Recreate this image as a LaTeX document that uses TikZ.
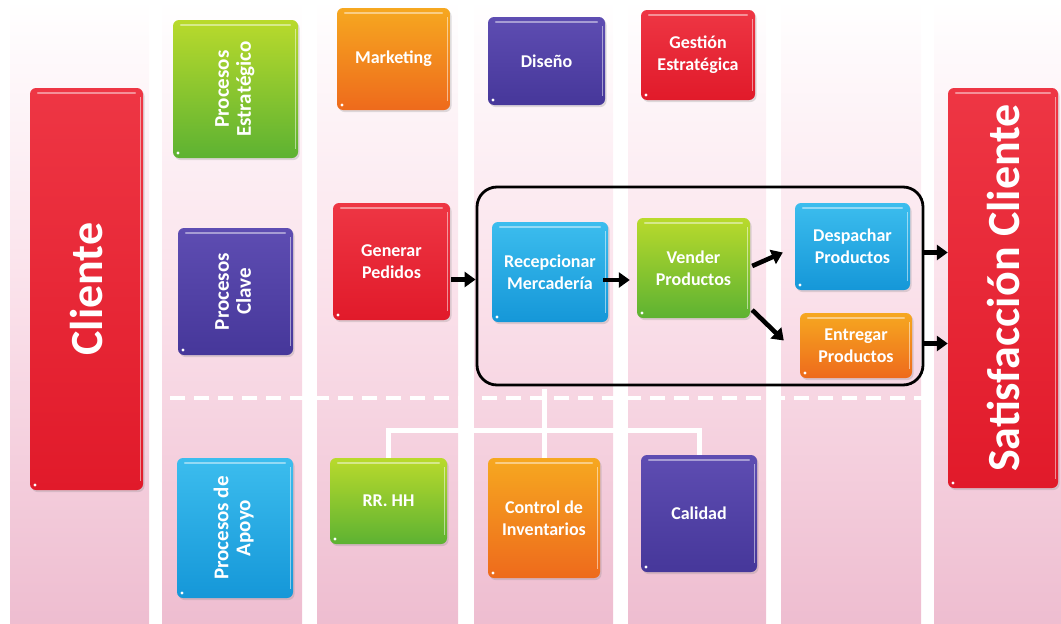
\documentclass[tikz,border=0pt]{standalone}
\usepackage{fontspec}
\setmainfont{Carlito}
\usetikzlibrary{arrows.meta,shadows,calc}

% palette
\definecolor{redT}{HTML}{EE3644}
\definecolor{redB}{HTML}{E11A2A}
\definecolor{grnT}{HTML}{B9DA2C}
\definecolor{grnB}{HTML}{5DB232}
\definecolor{orgT}{HTML}{F6A820}
\definecolor{orgB}{HTML}{EE6A1C}
\definecolor{purT}{HTML}{5E4DB2}
\definecolor{purB}{HTML}{46379A}
\definecolor{bluT}{HTML}{3CBDEE}
\definecolor{bluB}{HTML}{1597D8}
\definecolor{pinkM}{HTML}{FADFE9}
\definecolor{pinkB}{HTML}{EEBDD0}

\begin{document}
\begin{tikzpicture}[x=1pt,y=-1pt,
  box/.style={rounded corners=6pt, text=white, align=center, inner sep=2pt,
    font=\bfseries\fontsize{18}{22}\selectfont,
    drop shadow={shadow xshift=1.5pt, shadow yshift=-2pt, opacity=.25},
    path picture={
      \draw[white, opacity=.45, line width=2.2pt, line cap=round]
        ([xshift=8pt,yshift=-5pt]path picture bounding box.north west) --
        ([xshift=-8pt,yshift=-5pt]path picture bounding box.north east);
      \draw[white, opacity=.5, line width=1.2pt]
        ([xshift=-2.5pt,yshift=-9pt]path picture bounding box.north east) --
        ([xshift=-2.5pt,yshift=9pt]path picture bounding box.south east);
      \fill[white] ([xshift=5pt,yshift=5pt]path picture bounding box.south west)
        circle[radius=1.7pt];
    }},
  redbox/.style={box, top color=redT, bottom color=redB},
  grnbox/.style={box, top color=grnT, bottom color=grnB},
  orgbox/.style={box, top color=orgT, bottom color=orgB},
  purbox/.style={box, top color=purT, bottom color=purB},
  blubox/.style={box, top color=bluT, bottom color=bluB},
  sz/.style 2 args={minimum width=#1pt, minimum height=#2pt},
  arr/.style={line width=4.6pt, -{Triangle[length=11pt,width=15pt]}},
  conn/.style={white, line width=5pt},
  band/.style={top color=white, bottom color=pinkB, middle color=pinkM}
]
\useasboundingbox (0,0) rectangle (1061,624);

% background column bands
\foreach \a/\b in {10/149, 162/302, 317/458, 474/613, 628/766, 781/921, 934/1061}
  \shade[band] (\a,0) rectangle (\b,624);

% dashed separator between key and support processes
\coordinate (dl) at (170,398);
\coordinate (dr) at (922,398);
\draw[white, line width=4pt, dash pattern=on 15pt off 9pt] (dl) -- (dr);

% side boxes
\node[redbox, sz={113}{402}] (cli) at (86.5,289) {\rotatebox{90}{\fontsize{46}{48}\selectfont Cliente}};
\node[redbox, sz={110}{400}] (sat) at (1003,288) {\rotatebox{90}{\fontsize{46}{48}\selectfont Satisfacción Cliente}};

% strategic row
\node[grnbox, sz={125}{138}] (pest) at (235.5,89)
  {\rotatebox{90}{\fontsize{21}{22}\selectfont\begin{tabular}{@{}c@{}}Procesos\\Estratégico\end{tabular}}};
\node[orgbox, sz={113}{102}] (mkt) at (393.5,59) {Marketing};
\node[purbox, sz={117}{88}] (dis) at (546.5,61) {Diseño};
\node[redbox, sz={114}{90}] (ges) at (698,55) {Gestión\\Estratégica};

% key row
\node[purbox, sz={115}{127}] (pcl) at (235.5,291.5)
  {\rotatebox{90}{\fontsize{21}{22}\selectfont\begin{tabular}{@{}c@{}}Procesos\\Clave\end{tabular}}};
\node[redbox, sz={117}{117}] (gen) at (391.5,261.5) {Generar\\Pedidos};
\node[blubox, sz={116}{100}] (rec) at (550,272) {Recepcionar\\Mercadería};
\node[grnbox, sz={113}{100}] (ven) at (693.5,268) {Vender\\Productos};
\node[blubox, sz={115}{87}] (desp) at (852.5,246.5) {Despachar\\Productos};
\node[orgbox, sz={112}{65}] (ent) at (856,345.5) {Entregar\\Productos};

% support row
\node[blubox, sz={116}{140}] (pap) at (235,528)
  {\rotatebox{90}{\fontsize{21}{22}\selectfont\begin{tabular}{@{}c@{}}Procesos de\\Apoyo\end{tabular}}};
\node[grnbox, sz={117}{86}] (rr) at (388.5,501) {RR. HH};
\node[orgbox, sz={112}{120}] (ctrl) at (544,518) {Control de\\Inventarios};
\node[purbox, sz={116}{117}] (cal) at (699,513.5) {Calidad};

% frame around the core sales flow
\node[draw, line width=2.8pt, rounded corners=20pt, inner sep=0pt,
      minimum width=446pt, minimum height=198pt] (frame) at (700,286) {};

% support connectors
\coordinate (bus) at (546,430);
\draw[conn] (rr.north) -- (rr.north |- bus) -- (cal.north |- bus) -- (cal.north);
\draw[conn] ([yshift=-3pt]frame.south -| ctrl.north) -- (ctrl.north);

% flow arrows
\draw[arr] ($(gen.east)+(1,18)$) -- ($(gen.east -| frame.west)+(0,18)$);
\draw[arr] ($(rec.east)+(-5,8)$) -- ($(ven.west |- rec.east)+(-7,8)$);
\draw[arr] ([xshift=2pt,yshift=2pt]ven.east) -- ([xshift=-12pt,yshift=-6pt]desp.west);
\draw[arr] ([xshift=2pt,yshift=-42pt]ven.east) -- ([xshift=-16pt,yshift=5pt]ent.west);
\draw[arr] ($(frame.east |- desp.center)+(0,6)$) -- ($(sat.west |- desp.center)+(0,6)$);
\draw[arr] ($(frame.east |- ent.center)+(0,-2)$) -- ($(sat.west |- ent.center)+(0,-2)$);
\end{tikzpicture}
\end{document}
